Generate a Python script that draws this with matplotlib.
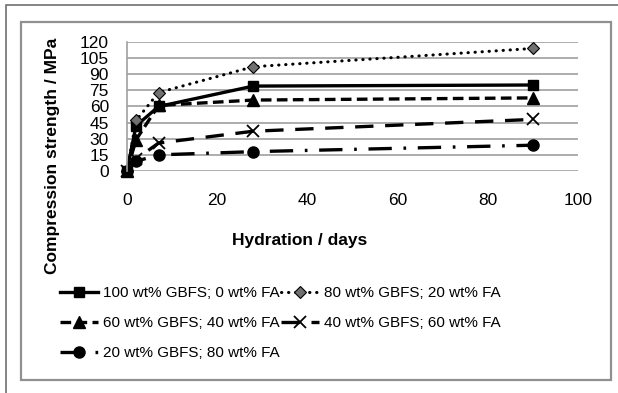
import matplotlib
matplotlib.use("Agg")
import matplotlib.pyplot as plt
from matplotlib.patches import Rectangle

plt.rcParams['font.family'] = ['Liberation Sans', 'DejaVu Sans']

# data
days = [0, 2, 7, 28, 90]
s100_0 = [0, 42, 60, 79, 80]
s80_20 = [0, 47, 73, 97, 114]
s60_40 = [0, 29, 61, 66, 68]
s40_60 = [0, 11, 26, 37, 48]
s20_80 = [0, 9, 15, 18, 24]
labels = ['100 wt% GBFS; 0 wt% FA', '80 wt% GBFS; 20 wt% FA',
          '60 wt% GBFS; 40 wt% FA', '40 wt% GBFS; 60 wt% FA',
          '20 wt% GBFS; 80 wt% FA']
yticks = [0, 15, 30, 45, 60, 75, 90, 105, 120]
xticks = [0, 20, 40, 60, 80, 100]

fig = plt.figure(figsize=(6.18, 3.93), dpi=100)

# frames
fig.patches.append(Rectangle((6/618, -0.1), 1.2, 1 - 5/393 + 0.1, transform=fig.transFigure,
                             fill=False, edgecolor='#707070', linewidth=1.2))
fig.patches.append(Rectangle((21/618, 1 - 380/393), 590/618, 358/393, transform=fig.transFigure,
                             fill=False, edgecolor='#909090', linewidth=1.6))

ax = fig.add_axes([127/618, 1 - 171/393, 451/618, 129/393])

h = []
h += ax.plot(days, s100_0, color='black', lw=2.4, marker='s', ms=7, label=labels[0])
h += ax.plot(days, s80_20, color='black', lw=2.2, linestyle=(0, (0.1, 2.2)), dash_capstyle='round',
             marker='D', ms=6.5, mfc='#707070', mec='black', mew=0.8, label=labels[1])
h += ax.plot(days, s60_40, color='black', lw=2.4, linestyle=(0, (3.2, 1.6)),
             marker='^', ms=8, label=labels[2])
h += ax.plot(days, s40_60, color='black', lw=2.4, linestyle=(0, (5.5, 3.5)),
             marker='x', ms=9, mew=1.3, label=labels[3])
h += ax.plot(days, s20_80, color='black', lw=2.4, linestyle=(0, (7, 3.5, 0.8, 3.5)),
             marker='o', ms=8, label=labels[4])
for ln in h:
    ln.set_clip_on(False)

ax.set_xlim(0, 100)
ax.set_ylim(0, 120)
ax.set_xticks(xticks)
ax.set_yticks(yticks)
ax.tick_params(length=0, labelsize=12.5)
ax.tick_params(axis='x', pad=16)
ax.tick_params(axis='y', pad=13)
ax.yaxis.grid(True, color='#a0a0a0', lw=1.2)
ax.set_axisbelow(True)
for sp in ['top', 'right', 'bottom']:
    ax.spines[sp].set_visible(False)
ax.spines['left'].set_color('#a0a0a0')
ax.spines['left'].set_linewidth(1.2)

fig.text(300/618, 1 - 240/393, 'Hydration / days', ha='center', va='center',
         fontsize=12.5, fontweight='bold')
fig.text(53/618, 1 - 156/393, 'Compression strength / MPa', ha='center', va='center',
         rotation=90, fontsize=12.5, fontweight='bold')

# row-major order for the two-column legend
order = [0, 2, 4, 1, 3]
fig.legend([h[i] for i in order], [labels[i] for i in order],
           loc='upper left', bbox_to_anchor=(60/618, 1 - 286/393), ncol=2, frameon=False,
           fontsize=11, handlelength=2.5, handletextpad=0.3, columnspacing=0.1,
           labelspacing=1.05, borderaxespad=0, borderpad=0)

fig.savefig('out.png', dpi=100)
